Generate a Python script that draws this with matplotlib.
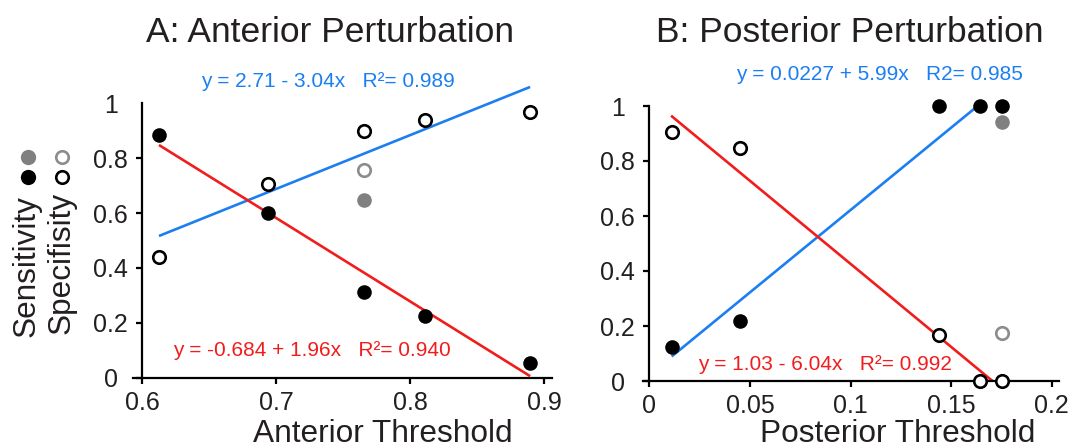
import matplotlib
matplotlib.use("Agg")
import matplotlib.pyplot as plt
from matplotlib.lines import Line2D
import numpy as np

plt.rcParams['font.family'] = ['Liberation Sans', 'DejaVu Sans']

# ---------------- data ----------------
ant_x = [0.6125, 0.6937, 0.7653, 0.8114, 0.8896]
ant_sens = [0.884, 0.599, 0.312, 0.226, 0.055]
ant_spec = [0.440, 0.705, 0.900, 0.939, 0.969]
ant_gray_x = [0.7655]
ant_gray_sens = [0.648]
ant_gray_spec = [0.756]

post_x = [0.0111, 0.0452, 0.1441, 0.1644, 0.1751]
post_sens = [0.125, 0.218, 1.0, 1.0, 1.0]
post_spec = [0.904, 0.848, 0.167, 0.0, 0.0]
post_gray_x = [0.1751]
post_gray_sens = [0.94]
post_gray_spec = [0.173]

# fitted lines: (intercept, slope, x-start, x-end)
ant_blue_fit = [-0.684, 1.96, 0.6125, 0.8896]
ant_red_fit = [2.71, -3.04, 0.6125, 0.8896]
post_blue_fit = [0.0227, 5.99, 0.0111, 0.1632]
post_red_fit = [1.03, -6.04, 0.0108, 0.1705]

ant_eq_blue = "y = 2.71 - 3.04x   R\u00b2= 0.989"
ant_eq_red = "y = -0.684 + 1.96x   R\u00b2= 0.940"
post_eq_blue = "y = 0.0227 + 5.99x   R2= 0.985"
post_eq_red = "y = 1.03 - 6.04x   R\u00b2= 0.992"

y_ticks = [0, 0.2, 0.4, 0.6, 0.8, 1]
y_ticklabels = ["0", "0.2", "0.4", "0.6", "0.8", "1"]
ant_xticks = [0.6, 0.7, 0.8, 0.9]
ant_xticklabels = ["0.6", "0.7", "0.8", "0.9"]
post_xticks = [0, 0.05, 0.1, 0.15, 0.2]
post_xticklabels = ["0", "0.05", "0.1", "0.15", "0.2"]

# ---------------- style ----------------
W, H = 1081, 448
fig = plt.figure(figsize=(W / 100, H / 100), dpi=100)
BLUE = '#1b7ff2'
RED = '#f21c1c'
BLACK = '#000000'
TXT = '#231f20'
GRAY = '#808080'
GRAY_OPEN = '#8c8c8c'


def fx(px):
    return px / W


def fy(py):
    return (H - py) / H


def style_axes(ax, xlim, xticks, xticklabels, no_top_tick=False):
    ax.set_xlim(*xlim)
    ax.set_ylim(0, 1.1)
    for s in ['top', 'right']:
        ax.spines[s].set_visible(False)
    for s in ['left', 'bottom']:
        ax.spines[s].set_linewidth(1.6)
        ax.spines[s].set_color(BLACK)
    ax.spines['left'].set_bounds(0, 1)
    ax.spines['left'].set_position(('data', xticks[0]))
    ax.set_xticks(xticks)
    ax.set_xticklabels(xticklabels)
    ax.set_yticks(y_ticks)
    ax.set_yticklabels(y_ticklabels)
    ax.tick_params(axis='both', direction='out', length=4.3, width=1.6,
                   color=BLACK, labelsize=18, labelcolor=TXT)
    ax.tick_params(axis='x', pad=5)
    ax.tick_params(axis='y', pad=18.5)
    for lab in ax.get_yticklabels():
        lab.set_horizontalalignment('center')
    if no_top_tick:
        ax.yaxis.get_major_ticks()[-1].tick1line.set_visible(False)
    ax.patch.set_alpha(0)


def draw_fit(ax, fit, color):
    b, m, x0, x1 = fit
    xs = np.array([x0, x1])
    ax.plot(xs, b + m * xs, color=color, lw=1.9, zorder=2, solid_capstyle='butt')


def draw_points(ax, x, sens, spec, gx, gsens, gspec):
    ax.plot(x, sens, 'o', ms=10.5, mfc=BLACK, mec=BLACK, mew=0, zorder=4, clip_on=False)
    ax.plot(x, spec, 'o', ms=9, mfc='white', mec=BLACK, mew=1.9, zorder=4, clip_on=False)
    ax.plot(gx, gsens, 'o', ms=10.5, mfc=GRAY, mec=GRAY, mew=0, zorder=4, clip_on=False)
    ax.plot(gx, gspec, 'o', ms=9, mfc='white', mec=GRAY_OPEN, mew=1.9, zorder=4, clip_on=False)


# ---------------- panel A ----------------
axA = fig.add_axes([fx(133), fy(377.7), fx(551.7) - fx(133), 1.1 * 274.4 / H])
style_axes(axA, (0.5931, 0.9057), ant_xticks, ant_xticklabels, no_top_tick=True)
draw_fit(axA, ant_blue_fit, BLUE)
draw_fit(axA, ant_red_fit, RED)
draw_points(axA, ant_x, ant_sens, ant_spec, ant_gray_x, ant_gray_sens, ant_gray_spec)

# ---------------- panel B ----------------
axB = fig.add_axes([fx(642.7), fy(381), fx(1059) - fx(642.7), 1.1 * 275 / H])
style_axes(axB, (-0.0033, 0.2036), post_xticks, post_xticklabels)
draw_fit(axB, post_blue_fit, BLUE)
draw_fit(axB, post_red_fit, RED)
draw_points(axB, post_x, post_sens, post_spec, post_gray_x, post_gray_sens, post_gray_spec)

# ---------------- texts ----------------
fig.text(fx(330), fy(42), "A: Anterior Perturbation", fontsize=25.5, color=TXT,
         ha='center', va='baseline')
fig.text(fx(850), fy(42), "B: Posterior Perturbation", fontsize=25.5, color=TXT,
         ha='center', va='baseline')
fig.text(fx(382.5), fy(442), "Anterior Threshold", fontsize=22.8, color=TXT,
         ha='center', va='baseline')
fig.text(fx(898), fy(442), "Posterior Threshold", fontsize=22.8, color=TXT,
         ha='center', va='baseline')

fig.text(fx(327.5), fy(81.7), ant_eq_blue, fontsize=15, color=BLUE, ha='center', va='center')
fig.text(fx(311.5), fy(350), ant_eq_red, fontsize=15, color=RED, ha='center', va='center')
fig.text(fx(879.7), fy(75), post_eq_blue, fontsize=15, color=BLUE, ha='center', va='center')
fig.text(fx(825), fy(364), post_eq_red, fontsize=15, color=RED, ha='center', va='center')

fig.text(fx(27), fy(266), "Sensitivity", fontsize=22.7, color=TXT, rotation=90,
         ha='center', va='center')
fig.text(fx(62), fy(263), "Specifisity", fontsize=22.7, color=TXT, rotation=90,
         ha='center', va='center')

# legend-like markers
fig.add_artist(Line2D([fx(28)], [fy(157)], marker='o', ms=11, mfc=GRAY, mec=GRAY, mew=0,
                      transform=fig.transFigure, linestyle='none'))
fig.add_artist(Line2D([fx(28)], [fy(177)], marker='o', ms=11, mfc=BLACK, mec=BLACK, mew=0,
                      transform=fig.transFigure, linestyle='none'))
fig.add_artist(Line2D([fx(62)], [fy(157)], marker='o', ms=9, mfc='white', mec=GRAY_OPEN, mew=1.9,
                      transform=fig.transFigure, linestyle='none'))
fig.add_artist(Line2D([fx(62)], [fy(177)], marker='o', ms=9, mfc='white', mec=BLACK, mew=1.9,
                      transform=fig.transFigure, linestyle='none'))

fig.savefig("out.png", dpi=100)
